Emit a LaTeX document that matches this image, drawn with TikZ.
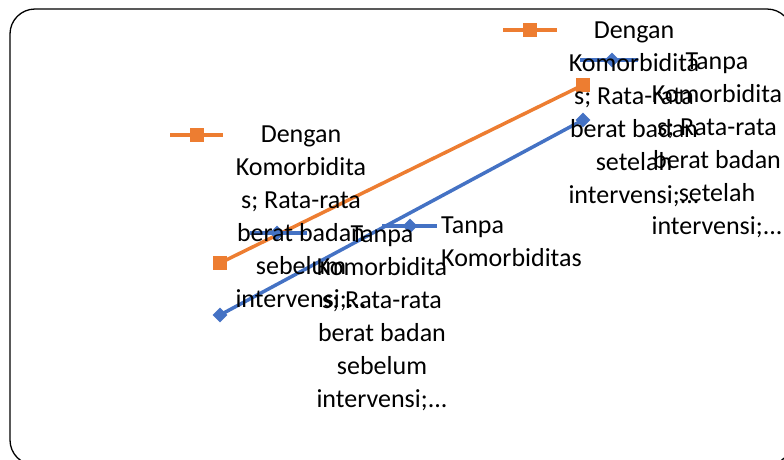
\documentclass[tikz,border=0pt]{standalone}
\usepackage{fontspec}
\setmainfont{Carlito}
\usepackage{tikz}
\usetikzlibrary{shapes.geometric, positioning}
\definecolor{morange}{RGB}{237,125,49}
\definecolor{mblue}  {RGB}{68,114,196}
\newcommand{\lblsize}{\fontsize{26}{33}\selectfont}

\begin{document}
\begin{tikzpicture}[x=1pt, y=-1pt,
    sqmark/.style={rectangle, fill=morange, inner sep=0pt, minimum size=14pt},
    dimark/.style={diamond, fill=mblue, inner sep=0pt, minimum size=15pt},
    oline/.style={draw=morange, line width=3.5pt},
    bline/.style={draw=mblue, line width=3.5pt},
    lbl/.style={font=\lblsize, align=center, inner sep=0pt}]
  \useasboundingbox (0,0) rectangle (784,459);
  \draw[line width=1.3pt, rounded corners=25pt] (10,9) rectangle (792,465);

  % data points
  \coordinate (ob) at (220,263);
  \coordinate (oa) at (583,85);
  \coordinate (bb) at (220,315);
  \coordinate (ba) at (583,120);
  \draw[oline] (ob) -- (oa);
  \draw[bline] (bb) -- (ba);
  \node[sqmark] (obm) at (ob) {};
  \node[sqmark] (oam) at (oa) {};
  \node[dimark] (bbm) at (bb) {};
  \node[dimark] (bam) at (ba) {};

  % legend keys of the labels
  \coordinate (k1l) at (170,135); \coordinate (k1r) at (223,135);
  \draw[oline] (k1l) -- (k1r);
  \node[sqmark] (k1m) at (197,135) {};
  \coordinate (k2l) at (250,233); \coordinate (k2r) at (307,233);
  \draw[bline] (k2l) -- (k2r);
  \node[dimark] (k2m) at (277,233) {};
  \coordinate (k3l) at (382,226); \coordinate (k3r) at (437,226);
  \draw[bline] (k3l) -- (k3r);
  \node[dimark] (k3m) at (410,226) {};
  \coordinate (k4l) at (503,30); \coordinate (k4r) at (557,30);
  \draw[oline] (k4l) -- (k4r);
  \node[sqmark] (k4m) at (530,30) {};
  \coordinate (k5l) at (580,60); \coordinate (k5r) at (638,60);
  \draw[bline] (k5l) -- (k5r);
  \node[dimark] (k5m) at (612,60) {};

  % labels
  \node[lbl] (dsebelum) at (301,218) {Dengan\\Komorbidita\\s; Rata-rata\\berat badan\\sebelum\\intervensi;...};
  \node[lbl] (tsebelum) at (382,318) {Tanpa\\Komorbidita\\s; Rata-rata\\berat badan\\sebelum\\intervensi;...};
  \node[lbl, align=left, anchor=west] (tanpa) at (441,242) {Tanpa\\Komorbiditas};
  \node[lbl] (dsetelah) at (634,114) {Dengan\\Komorbidita\\s; Rata-rata\\berat badan\\setelah\\intervensi;...};
  \node[lbl] (tsetelah) at (717,145) {Tanpa\\Komorbidita\\s; Rata-rata\\berat badan\\setelah\\intervensi;...};
\end{tikzpicture}
\end{document}
